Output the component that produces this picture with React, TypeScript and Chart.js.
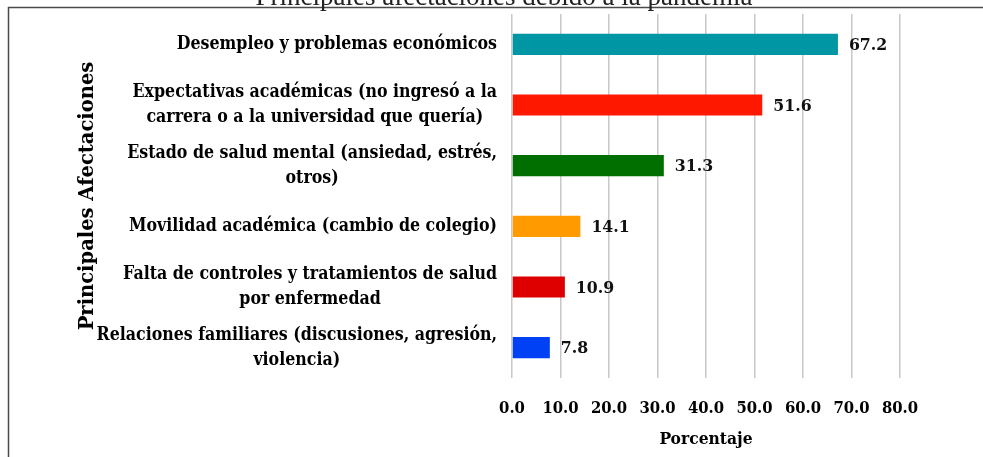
import React, { useEffect, useRef } from "react";
import { Chart, registerables } from "chart.js";

Chart.register(...registerables);

const TITLE = "Principales afectaciones debido a la pandemia";
const Y_TITLE = "Principales Afectaciones";
const X_TITLE = "Porcentaje";

const categories: string[][] = [
  ["Desempleo y problemas económicos"],
  ["Expectativas académicas (no ingresó a la", "carrera o a la universidad que quería)"],
  ["Estado de salud mental (ansiedad, estrés,", "otros)"],
  ["Movilidad académica (cambio de colegio)"],
  ["Falta de controles y tratamientos de salud", "por enfermedad"],
  ["Relaciones familiares (discusiones, agresión,", "violencia)"],
];
const values: number[] = [67.2, 51.6, 31.3, 14.1, 10.9, 7.8];
const barColors: string[] = ["#0096A3", "#FF1800", "#006F00", "#FF9A00", "#DE0000", "#0041F5"];
const xTicks: number[] = [0, 10, 20, 30, 40, 50, 60, 70, 80];

const COND = "'DejaVu Serif Condensed', 'DejaVu Serif', serif";
const LABEL_FONT = `bold 17.6px ${COND}`;
const VALUE_FONT = `bold 17.5px ${COND}`;

const decorPlugin = {
  id: "decor",
  beforeDraw(chart: any) {
    const ctx = chart.ctx;
    ctx.save();
    ctx.strokeStyle = "#4a4a4a";
    ctx.lineWidth = 1.5;
    ctx.strokeRect(8.5, 7.5, 1100, 600);
    ctx.restore();
  },
  afterDraw(chart: any) {
    const ctx = chart.ctx;
    const yScale = chart.scales.y;
    const meta = chart.getDatasetMeta(0);
    ctx.save();
    // title (mostly cut off at the top)
    ctx.fillStyle = "#222";
    ctx.font = "27px 'Liberation Serif', serif";
    ctx.textAlign = "center";
    ctx.textBaseline = "alphabetic";
    ctx.fillText(TITLE, 504, 5);

    // category labels: right-aligned blocks, centered lines
    ctx.font = LABEL_FONT;
    ctx.fillStyle = "#000";
    ctx.textBaseline = "middle";
    ctx.textAlign = "center";
    const rightEdge = chart.chartArea.left - 15;
    const lh = 25;
    categories.forEach((lines, i) => {
      const yc = yScale.getPixelForTick(i);
      const w = Math.max(...lines.map((l) => ctx.measureText(l).width));
      const cx = rightEdge - w / 2;
      const y0 = yc - ((lines.length - 1) * lh) / 2;
      lines.forEach((l, j) => ctx.fillText(l, cx, y0 + j * lh));
    });

    // value labels
    ctx.font = VALUE_FONT;
    ctx.textAlign = "left";
    ctx.fillStyle = "#111";
    meta.data.forEach((bar: any, i: number) => {
      ctx.fillText(values[i].toFixed(1), bar.x + 11, bar.y + 1);
    });
    ctx.restore();
  },
};

export default function App() {
  const ref = useRef<HTMLCanvasElement>(null);
  useEffect(() => {
    if (!ref.current) return;
    const chart = new Chart(ref.current, {
      type: "bar",
      data: {
        labels: categories.map((c) => c.join(" ")),
        datasets: [
          {
            data: values,
            backgroundColor: barColors,
            borderColor: barColors,
            borderWidth: 0,
            barPercentage: 0.35,
            categoryPercentage: 1,
          },
        ],
      },
      options: {
        indexAxis: "y",
        animation: false,
        responsive: true,
        maintainAspectRatio: false,
        layout: { padding: { top: 14, right: 83, bottom: 0, left: 0 } },
        plugins: { legend: { display: false }, tooltip: { enabled: false }, title: { display: false } },
        scales: {
          x: {
            min: 0,
            max: 80,
            afterBuildTicks: (s: any) => {
              s.ticks = xTicks.map((v) => ({ value: v }));
            },
            afterFit: (s: any) => {
              s.height = 79;
            },
            ticks: {
              callback: (v: any) => Number(v).toFixed(1),
              color: "#000",
              padding: 21,
              font: { family: COND, size: 16.5, weight: "bold" },
            },
            grid: { color: "#c8c8c8", lineWidth: 1.5, drawTicks: false },
            border: { display: false },
            title: {
              display: true,
              text: X_TITLE,
              color: "#000",
              font: { family: COND, size: 17.3, weight: "bold" },
              padding: { top: 0, bottom: 7 },
            },
          },
          y: {
            afterFit: (s: any) => {
              s.width = 512;
            },
            ticks: { display: false },
            grid: { display: false },
            border: { display: false },
            title: {
              display: true,
              text: Y_TITLE,
              color: "#000",
              font: { family: "'DejaVu Serif', serif", size: 19.5, weight: "bold" },
              padding: { top: 76, bottom: 0 },
            },
          },
        },
      },
      plugins: [decorPlugin],
    });
    return () => chart.destroy();
  }, []);
  return (
    <div style={{ position: "absolute", left: 0, top: 0, width: 983, height: 457 }}>
      <canvas ref={ref} />
    </div>
  );
}
